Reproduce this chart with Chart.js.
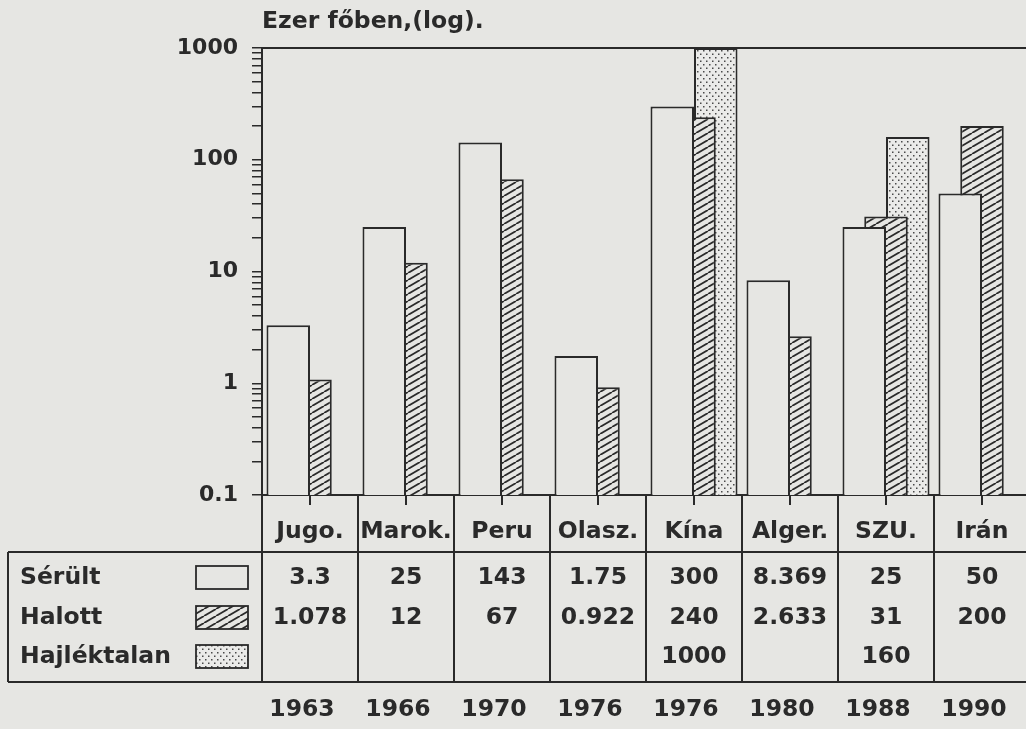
<!DOCTYPE html>
<html>
<head>
<meta charset="utf-8">
<script src="https://cdn.jsdelivr.net/npm/chart.js@4/dist/chart.umd.min.js"></script>
<style>
  html, body { margin: 0; padding: 0; background: #e6e6e3; overflow: hidden; }
  #wrap { width: 1026px; height: 729px; overflow: hidden; }
</style>
</head>
<body>
<div id="wrap"><canvas id="quake-chart" width="1034" height="729"></canvas></div>
<script>
const categories  = ['Jugo.', 'Marok.', 'Peru', 'Olasz.', 'Kína', 'Alger.', 'SZU.', 'Irán'];
const years       = ['1963', '1966', '1970', '1976', '1976', '1980', '1988', '1990'];
const injured     = [3.3, 25, 143, 1.75, 300, 8.369, 25, 50];
const dead        = [1.078, 12, 67, 0.922, 240, 2.633, 31, 200];
const homeless    = [null, null, null, null, 1000, null, 160, null];
const seriesNames = ['Sérült', 'Halott', 'Hajléktalan'];
const tickLabels  = [0.1, 1, 10, 100, 1000];
const yTitle      = 'Ezer főben,(log).';

const PAPER = '#e6e6e3';
const INK   = '#2a2a2a';
const FONT  = 'bold 23.5px "DejaVu Sans"';

// minor ticks 2..9 inside every decade, like the printed axis
const tickValues = [];
tickLabels.forEach((d, i) => {
  if (i === tickLabels.length - 1) { tickValues.push(d); return; }
  for (let m = 1; m < 10; m++) tickValues.push(d * m);
});

const hatchPattern = () => {
  const c = document.createElement('canvas');
  c.width = 12; c.height = 7;
  const g = c.getContext('2d');
  g.fillStyle = PAPER; g.fillRect(0, 0, 12, 7);
  g.strokeStyle = INK; g.lineWidth = 1.8;
  [-12, 0, 12].forEach(dx => {
    g.beginPath(); g.moveTo(dx, 7); g.lineTo(dx + 12, 0); g.stroke();
  });
  return g.createPattern(c, 'repeat');
};

const dotPattern = () => {
  const c = document.createElement('canvas');
  c.width = 6; c.height = 7;
  const g = c.getContext('2d');
  g.fillStyle = '#ebebe9'; g.fillRect(0, 0, 6, 7);
  g.fillStyle = '#4a4a4a';
  g.fillRect(1, 1, 1.5, 1.5);
  g.fillRect(4, 4.5, 1.5, 1.5);
  return g.createPattern(c, 'repeat');
};

const fills = [PAPER, hatchPattern(), dotPattern()];
const seriesData = [injured, dead, homeless];

// table under the plot, frame of the plot and the unit title
const tablePlugin = {
  id: 'table',
  afterDraw(chart) {
    const { ctx, chartArea: a, scales: { x } } = chart;
    const colW = (a.right - a.left) / categories.length;
    const headY = a.bottom + 37;
    const rowTop = a.bottom + 57;
    const rowBottom = a.bottom + 187;
    const rowY = [a.bottom + 83, a.bottom + 123, a.bottom + 162];

    ctx.save();
    ctx.strokeStyle = INK;
    ctx.lineWidth = 2;
    ctx.beginPath();
    ctx.moveTo(a.left, a.top); ctx.lineTo(a.right, a.top);
    ctx.moveTo(8, rowTop); ctx.lineTo(a.right, rowTop);
    ctx.moveTo(8, rowBottom); ctx.lineTo(a.right, rowBottom);
    ctx.moveTo(8, rowTop); ctx.lineTo(8, rowBottom);
    for (let k = 0; k <= categories.length; k++) {
      const xx = a.left + colW * k;
      ctx.moveTo(xx, a.bottom); ctx.lineTo(xx, rowBottom);
    }
    ctx.stroke();

    ctx.fillStyle = INK;
    ctx.font = FONT;
    ctx.textBaseline = 'middle';
    ctx.textAlign = 'left';
    ctx.fillText(yTitle, a.left, 22);

    seriesNames.forEach((name, r) => {
      ctx.fillStyle = INK;
      ctx.fillText(name, 20, rowY[r]);
      ctx.fillStyle = fills[r];
      ctx.fillRect(196, rowY[r] - 12, 52, 23);
      ctx.lineWidth = 1.8;
      ctx.strokeRect(196, rowY[r] - 12, 52, 23);
    });

    ctx.fillStyle = INK;
    ctx.textAlign = 'center';
    categories.forEach((cat, i) => {
      const cx = x.getPixelForValue(i);
      ctx.fillText(cat, cx, headY);
      seriesData.forEach((arr, r) => {
        if (arr[i] !== null) ctx.fillText(String(arr[i]), cx, rowY[r]);
      });
      ctx.fillText(years[i], cx - 8, a.bottom + 215);
    });
    ctx.restore();
  }
};

const chartInit = () => {
  const context = document.getElementById('quake-chart').getContext('2d');

  return new Chart(context, {
    type: 'bar',
    data: {
      labels: categories,
      datasets: seriesNames.map((name, r) => ({
        label: name,
        data: seriesData[r],
        backgroundColor: fills[r],
        borderColor: INK,
        borderWidth: 2,
        barPercentage: 2,
        categoryPercentage: 0.68,
      })),
    },
    options: {
      responsive: false,
      animation: false,
      layout: { padding: { top: 48, left: 0, right: 4, bottom: 0 } },
      plugins: { legend: { display: false }, tooltip: { enabled: false } },
      scales: {
        x: {
          type: 'category',
          ticks: { display: false },
          grid: { offset: false, drawOnChartArea: false, tickLength: 10, color: INK, lineWidth: 2 },
          border: { display: true, color: INK, width: 2 },
          afterFit: scale => { scale.height = 234; },
        },
        y: {
          type: 'logarithmic',
          min: 0.1,
          max: 1000,
          afterBuildTicks: scale => { scale.ticks = tickValues.map(v => ({ value: v })); },
          ticks: {
            autoSkip: false,
            padding: 14,
            color: INK,
            font: { family: 'DejaVu Sans', size: 22, weight: 'bold' },
            callback: value => {
              const hit = tickLabels.find(t => Math.abs(Math.log10(t) - Math.log10(value)) < 1e-6);
              return hit === undefined ? '' : String(hit);
            },
          },
          grid: { drawOnChartArea: false, tickLength: 10, color: INK, lineWidth: 1.5 },
          border: { display: true, color: INK, width: 2 },
          afterFit: scale => { scale.width = 262; },
        },
      },
    },
    plugins: [tablePlugin],
  });
};

chartInit();
</script>
</body>
</html>
